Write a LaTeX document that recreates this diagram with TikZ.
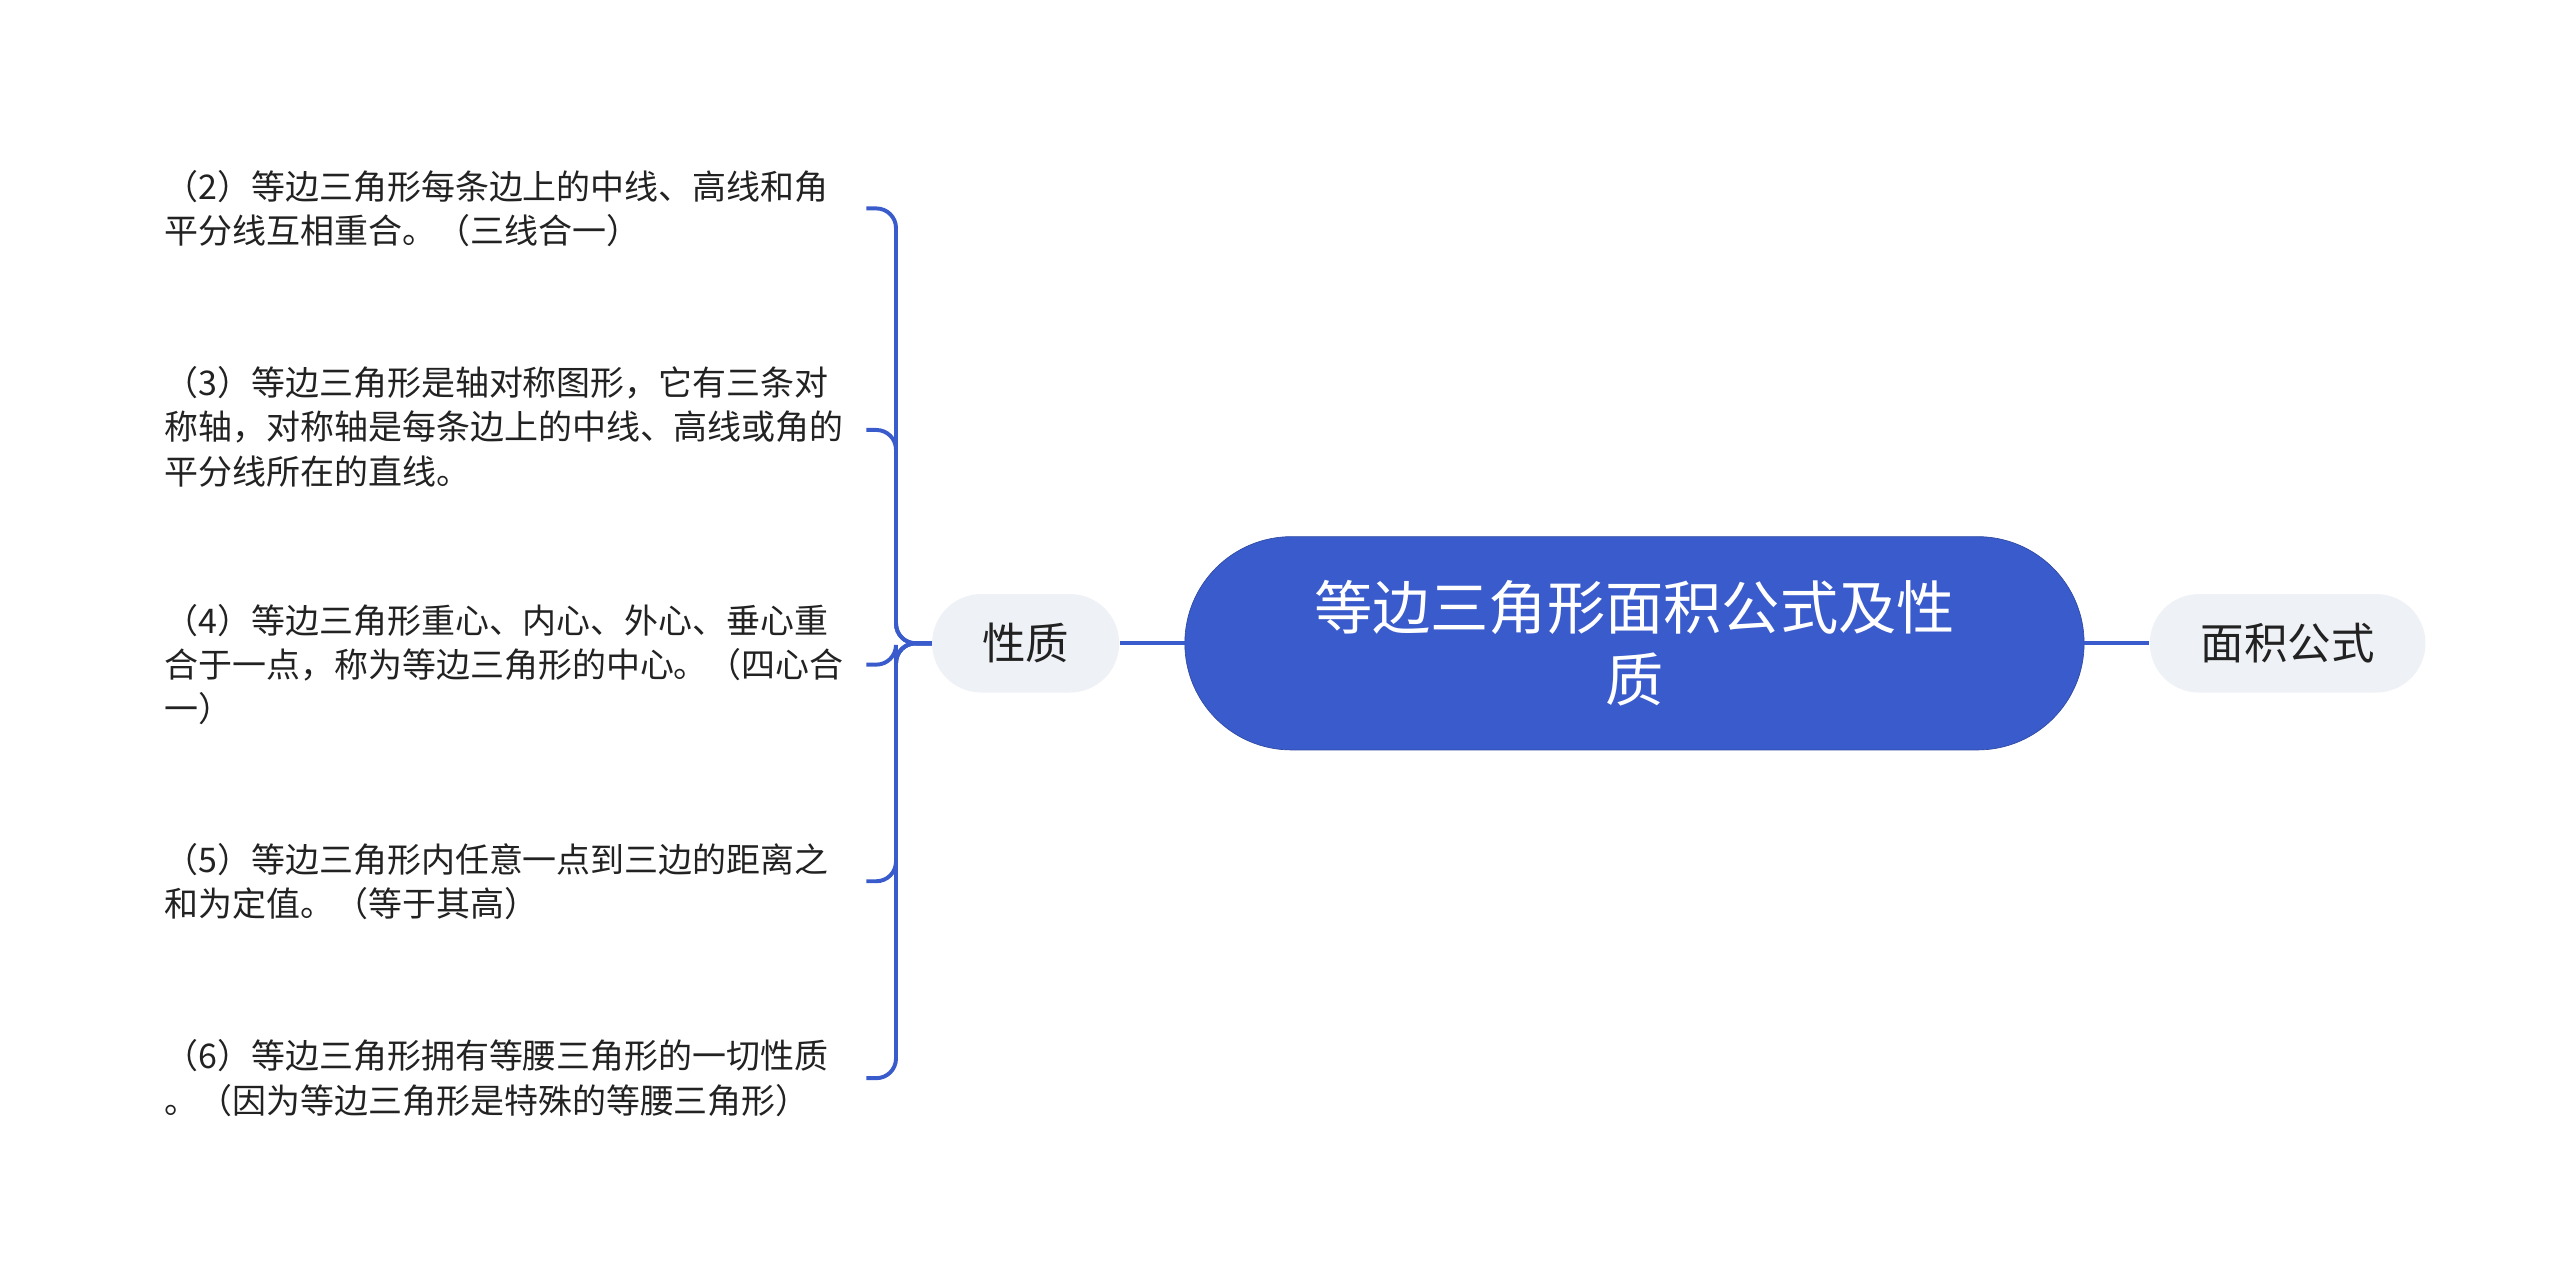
\documentclass[tikz,border=0pt]{standalone}
\usepackage{fontspec}
\setmainfont{Noto Sans CJK SC}
\definecolor{mainblue}{HTML}{3A5BCB}
\definecolor{pill}{HTML}{EEF1F5}
\definecolor{txt}{HTML}{222222}
\begin{document}
\begin{tikzpicture}[x=1pt,y=-1pt,
  rootbox/.style={draw=mainblue!80!black,fill=mainblue,rounded corners=65pt,minimum width=548pt,minimum height=130pt,text=white,align=center,font=\fontsize{35.5}{44}\selectfont},
  subbox/.style={fill=pill,rounded corners=30pt,minimum height=60pt,text=txt,font=\fontsize{26.5}{30}\selectfont},
  leaf/.style={anchor=west,align=left,text=txt,inner sep=0pt,font=\fontsize{20.7}{27}\selectfont},
  link/.style={draw=mainblue,line width=2.4pt},
  brace/.style={draw=mainblue,line width=2.4pt,rounded corners=12pt}]
\useasboundingbox (0,0) rectangle (1560,780);
\fill[white] (0,0) rectangle (1560,780);
\node[rootbox] (root) at (996,392) {等边三角形面积公式及性\\质};
\node[subbox,minimum width=168pt] (mj) at (1394,392) {面积公式};
\node[subbox,minimum width=114pt] (xz) at (625,392) {性质};
\draw[link] (root.east) -- (mj.west);
\draw[link] (root.west) -- (xz.east);
\node[leaf] (l1) at (100,127) {（2）等边三角形每条边上的中线、高线和角\\平分线互相重合。（三线合一）};
\node[leaf] (l2) at (100,260) {（3）等边三角形是轴对称图形，它有三条对\\称轴，对称轴是每条边上的中线、高线或角的\\平分线所在的直线。};
\node[leaf] (l3) at (100,405) {（4）等边三角形重心、内心、外心、垂心重\\合于一点，称为等边三角形的中心。（四心合\\一）};
\node[leaf] (l4) at (100,537) {（5）等边三角形内任意一点到三边的距离之\\和为定值。（等于其高）};
\node[leaf] (l5) at (100,657) {（6）等边三角形拥有等腰三角形的一切性质\\。（因为等边三角形是特殊的等腰三角形）};
\coordinate (e1) at (528,127);
\coordinate (e2) at (528,262);
\coordinate (e3) at (528,405);
\coordinate (e4) at (528,537);
\coordinate (e5) at (528,657);
\foreach \e in {e1,e2,e3,e4,e5}{
  \draw[brace] (xz.west) -| (546,0 |- \e) -- (\e);
}
\end{tikzpicture}
\end{document}
